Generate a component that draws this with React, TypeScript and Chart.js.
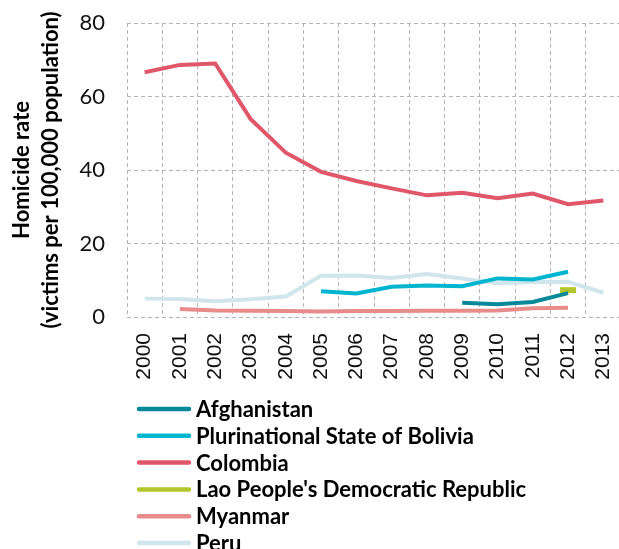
import React, { useEffect, useRef } from "react";
import { Chart, registerables } from "chart.js";

Chart.register(...registerables);

const years = ["2000","2001","2002","2003","2004","2005","2006","2007","2008","2009","2010","2011","2012","2013"];
const afghanistan = [null,null,null,null,null,null,null,null,null,3.9,3.5,4.1,6.5,null];
const bolivia = [null,null,null,null,null,7.0,6.4,8.2,8.6,8.4,10.5,10.2,12.3,null];
const colombia = [66.6,68.6,69.0,53.9,44.7,39.5,37.0,35.0,33.1,33.8,32.3,33.6,30.7,31.7];
const lao = [null,null,null,null,null,null,null,null,null,null,null,null,7.3,null];
const myanmar = [null,2.2,1.8,1.7,1.6,1.5,1.6,1.6,1.7,1.7,1.8,2.4,2.5,null];
const peru = [5.0,4.9,4.3,4.8,5.6,11.2,11.3,10.6,11.7,10.5,9.2,9.5,9.6,6.6];
const yTicks = [0, 20, 40, 60, 80];

const seriesNames = [
  "Afghanistan",
  "Plurinational State of Bolivia",
  "Colombia",
  "Lao People's Democratic Republic",
  "Myanmar",
  "Peru",
];
const seriesColors = ["#08899a", "#00b5cf", "#df5769", "#b3c72d", "#e78b8b", "#d0e6ec"];

const legendPlugin = {
  id: "stackedLegend",
  afterDraw(chart: any) {
    const ctx = chart.ctx;
    ctx.save();
    chart.data.datasets.forEach((ds: any, i: number) => {
      const y = 409 + i * 26.8;
      ctx.strokeStyle = ds.borderColor;
      ctx.lineWidth = 4.5;
      ctx.lineCap = "round";
      ctx.beginPath();
      ctx.moveTo(139, y);
      ctx.lineTo(189, y);
      ctx.stroke();
      ctx.fillStyle = "#000";
      ctx.font = "bold 22px Lato";
      ctx.textBaseline = "middle";
      ctx.textAlign = "left";
      ctx.fillText(ds.label, 196, y + 1);
    });
    ctx.restore();
  },
};

export default function App() {
  const ref = useRef<HTMLCanvasElement>(null);
  useEffect(() => {
    const seriesData = [afghanistan, bolivia, colombia, lao, myanmar, peru];
    const chart = new Chart(ref.current!, {
      type: "line",
      data: {
        labels: years,
        datasets: seriesNames.map((name, i) => ({
          label: name,
          data: seriesData[i],
          borderColor: seriesColors[i],
          backgroundColor: seriesColors[i],
          borderWidth: 4,
          pointRadius: name.startsWith("Lao") ? 8 : 0,
          pointStyle: "line",
          pointBorderWidth: 6,
          pointBorderColor: seriesColors[i],
          tension: 0,
          spanGaps: false,
          fill: false,
        })),
      },
      options: {
        animation: false,
        responsive: false,
        devicePixelRatio: 1,
        layout: { padding: { left: 0, top: 23, right: 19, bottom: 163 } },
        plugins: {
          legend: { display: false },
          tooltip: { enabled: false },
        },
        scales: {
          x: {
            offset: true,
            grid: {
              offset: true,
              color: "#b4b4b4",
              lineWidth: 1,
              drawTicks: true,
              tickLength: 16,
              tickColor: "rgba(0,0,0,0)",
            },
            border: { display: false, dash: [4, 3] },
            ticks: {
              autoSkip: false,
              minRotation: 90,
              maxRotation: 90,
              padding: 0,
              color: "#111",
              font: { family: "Liberation Sans", size: 21 },
            },
            afterFit: (s: any) => { s.height = 80; },
          },
          y: {
            min: 0,
            max: 80,
            afterBuildTicks: (s: any) => { s.ticks = yTicks.map((v) => ({ value: v })); },
            grid: {
              color: "#b4b4b4",
              lineWidth: 1,
              drawTicks: true,
              tickLength: 22,
              tickColor: "rgba(0,0,0,0)",
            },
            border: { display: false, dash: [4, 3] },
            ticks: {
              padding: 0,
              color: "#111",
              font: { family: "Lato", size: 22 },
            },
            title: {
              display: true,
              text: ["Homicide rate", "(victims per 100,000 population)"],
              color: "#000",
              font: { family: "Lato", size: 22, weight: "bold", lineHeight: 1.32 },
              padding: { top: 7.5, bottom: 0 },
            },
            afterFit: (s: any) => { s.width = 127; },
          },
        },
      },
      plugins: [legendPlugin],
    });
    return () => chart.destroy();
  }, []);
  return (
    <div style={{ position: "absolute", left: 0, top: 0, width: 619, height: 549, overflow: "hidden", background: "#fff" }}>
      <canvas ref={ref} width={640} height={560} style={{ width: 640, height: 560, display: "block" }} />
    </div>
  );
}
